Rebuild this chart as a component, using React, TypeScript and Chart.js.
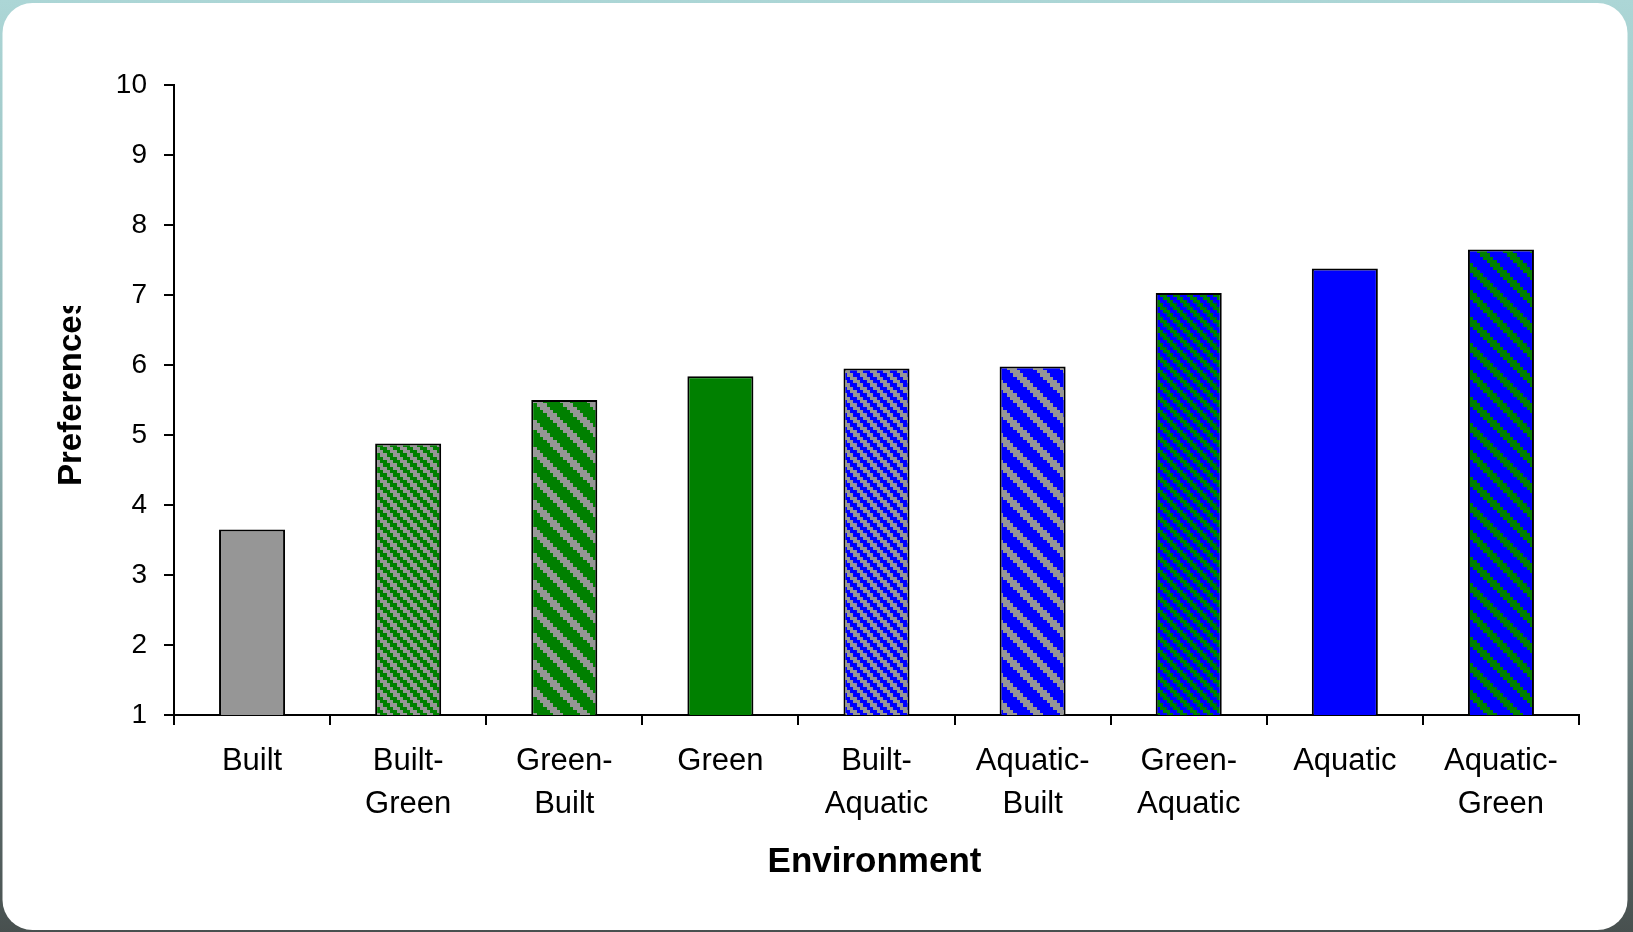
import React, { useEffect, useRef } from "react";
import { Chart, registerables } from "chart.js";

Chart.register(...registerables);

// Environment categories (multi-line labels) and their mean preference ratings
const environments: string[][] = [
  ["Built"],
  ["Built-", "Green"],
  ["Green-", "Built"],
  ["Green"],
  ["Built-", "Aquatic"],
  ["Aquatic-", "Built"],
  ["Green-", "Aquatic"],
  ["Aquatic"],
  ["Aquatic-", "Green"],
];
const preferenceRatings: number[] = [3.65, 4.88, 5.5, 5.84, 5.95, 5.98, 7.03, 7.38, 7.65];
const ratingScaleMin = 1;
const ratingScaleMax = 10;

const X_TITLE = "Environment";
const Y_TITLE = "Preferences";

const W = 1633;
const H = 932;
const PLOT_TOP = 85;
const PLOT_BOTTOM = 715;

const GRAY = "#969696";
const GREEN = "#008000";
const BLUE = "#0000ff";

type FillSpec =
  | { kind: "solid"; color: string }
  | { kind: "stripes"; bg: string; fg: string; period: number; width: number };

// Fill style for each bar: solid colours for pure environments, diagonal hatches for mixes
const barFills: FillSpec[] = [
  { kind: "solid", color: GRAY },
  { kind: "stripes", bg: GRAY, fg: GREEN, period: 4, width: 2 },
  { kind: "stripes", bg: GREEN, fg: GRAY, period: 8, width: 3 },
  { kind: "solid", color: GREEN },
  { kind: "stripes", bg: GRAY, fg: BLUE, period: 4, width: 2 },
  { kind: "stripes", bg: BLUE, fg: GRAY, period: 8, width: 3 },
  { kind: "stripes", bg: BLUE, fg: GREEN, period: 4, width: 2 },
  { kind: "solid", color: BLUE },
  { kind: "stripes", bg: BLUE, fg: GREEN, period: 8, width: 3 },
];

const FONT = "'Liberation Sans', Arial, Helvetica, sans-serif";

function makeStripes(
  ctx: CanvasRenderingContext2D,
  bg: string,
  fg: string,
  period: number,
  width: number
): CanvasPattern | string {
  const cells = 24;
  const size = 80;
  const s = size / cells;
  const c = document.createElement("canvas");
  c.width = size;
  c.height = size;
  const g = c.getContext("2d");
  if (!g) return bg;
  g.fillStyle = bg;
  g.fillRect(0, 0, size, size);
  g.fillStyle = fg;
  for (let r = 0; r < cells; r++) {
    for (let k = 0; k < cells; k++) {
      if ((((k - r) % period) + period) % period < width) {
        const x0 = Math.round(k * s);
        const x1 = Math.round((k + 1) * s);
        const y0 = Math.round(r * s);
        const y1 = Math.round((r + 1) * s);
        g.fillRect(x0, y0, x1 - x0, y1 - y0);
      }
    }
  }
  return ctx.createPattern(c, "repeat") || bg;
}

function roundRect(ctx: CanvasRenderingContext2D, x: number, y: number, w: number, h: number, r: number) {
  ctx.beginPath();
  ctx.moveTo(x + r, y);
  ctx.lineTo(x + w - r, y);
  ctx.arcTo(x + w, y, x + w, y + r, r);
  ctx.lineTo(x + w, y + h - r);
  ctx.arcTo(x + w, y + h, x + w - r, y + h, r);
  ctx.lineTo(x + r, y + h);
  ctx.arcTo(x, y + h, x, y + h - r, r);
  ctx.lineTo(x, y + r);
  ctx.arcTo(x, y, x + r, y, r);
  ctx.closePath();
}

// Slide-style frame behind the chart
const framePlugin = {
  id: "frame",
  beforeDraw(chart: Chart) {
    const ctx = chart.ctx;
    ctx.save();
    const grad = ctx.createLinearGradient(0, 0, 0, H);
    grad.addColorStop(0, "#acd6d6");
    grad.addColorStop(0.45, "#90b4b4");
    grad.addColorStop(1, "#48504f");
    ctx.fillStyle = grad;
    ctx.fillRect(0, 0, W, H);
    ctx.fillStyle = "#ffffff";
    roundRect(ctx, 2.5, 3, 1625, 927, 30);
    ctx.fill();
    ctx.restore();
  },
};

// Axis titles; the vertical one is clipped at its upper end
const titlesPlugin = {
  id: "axisTitles",
  afterDraw(chart: Chart) {
    const ctx = chart.ctx;
    const area = chart.chartArea;
    ctx.save();
    ctx.fillStyle = "#000000";
    ctx.font = `bold 35px ${FONT}`;
    ctx.textAlign = "center";
    ctx.textBaseline = "alphabetic";
    ctx.fillText(X_TITLE, (area.left + area.right) / 2 - 2, 872);
    ctx.restore();

    ctx.save();
    ctx.beginPath();
    ctx.rect(0, 306, 174, H - 306);
    ctx.clip();
    ctx.translate(81, 391.5);
    ctx.rotate(-Math.PI / 2);
    ctx.fillStyle = "#000000";
    ctx.font = `bold 33px ${FONT}`;
    ctx.textAlign = "center";
    ctx.textBaseline = "alphabetic";
    ctx.fillText(Y_TITLE, 0, 0);
    ctx.restore();
  },
};

export default function App() {
  const canvasRef = useRef<HTMLCanvasElement | null>(null);

  useEffect(() => {
    const canvas = canvasRef.current;
    if (!canvas) return;
    const ctx = canvas.getContext("2d");
    if (!ctx) return;

    const backgrounds = barFills.map((f) =>
      f.kind === "solid" ? f.color : makeStripes(ctx, f.bg, f.fg, f.period, f.width)
    );

    const chart = new Chart(canvas, {
      type: "bar",
      data: {
        labels: environments,
        datasets: [
          {
            data: preferenceRatings,
            backgroundColor: backgrounds as any,
            borderColor: "#000000",
            borderWidth: 2,
            borderSkipped: "start",
            categoryPercentage: 1,
            barPercentage: 0.423,
          },
        ],
      },
      options: {
        animation: false,
        responsive: false,
        devicePixelRatio: 1,
        layout: { padding: { top: PLOT_TOP, right: 54, left: 0, bottom: 0 } },
        plugins: {
          legend: { display: false },
          tooltip: { enabled: false },
          title: { display: false },
        },
        scales: {
          x: {
            type: "category",
            offset: true,
            grid: {
              display: true,
              offset: true,
              drawOnChartArea: false,
              drawTicks: true,
              tickLength: 10,
              color: "#000000",
              lineWidth: 2,
            },
            border: { display: true, color: "#000000", width: 2 },
            ticks: {
              color: "#000000",
              font: { family: FONT, size: 31, lineHeight: 43 / 31 },
              padding: 15,
              maxRotation: 0,
              minRotation: 0,
              autoSkip: false,
            },
            afterFit: (scale: any) => {
              scale.height = H - PLOT_BOTTOM;
            },
          },
          y: {
            type: "linear",
            min: ratingScaleMin,
            max: ratingScaleMax,
            grid: {
              display: true,
              drawOnChartArea: false,
              drawTicks: true,
              tickLength: 10,
              color: "#000000",
              lineWidth: 2,
            },
            border: { display: true, color: "#000000", width: 2 },
            ticks: {
              stepSize: 1,
              color: "#000000",
              font: { family: FONT, size: 28 },
              padding: 17,
            },
            afterFit: (scale: any) => {
              scale.width = 174;
            },
          },
        },
      },
      plugins: [framePlugin, titlesPlugin],
    });

    return () => {
      chart.destroy();
    };
  }, []);

  return (
    <div style={{ position: "absolute", left: 0, top: 0, width: W, height: H, overflow: "hidden" }}>
      <canvas ref={canvasRef} width={W} height={H} style={{ display: "block", width: W, height: H }} />
    </div>
  );
}
